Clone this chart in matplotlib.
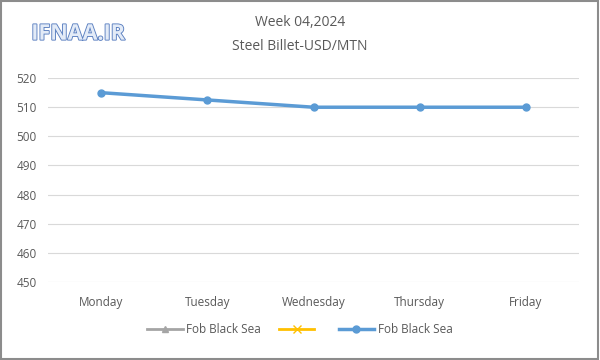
import matplotlib
matplotlib.use("Agg")
import matplotlib.pyplot as plt
import matplotlib.patheffects as pe
from matplotlib.patches import Rectangle

days = ["Monday", "Tuesday", "Wednesday", "Thursday", "Friday"]
fob_black_sea = [515, 512.5, 510, 510, 510]
yticks = [450, 460, 470, 480, 490, 500, 510, 520]

plt.rcParams['font.family'] = ['Open Sans', 'DejaVu Sans']

fig = plt.figure(figsize=(6, 3.6), dpi=100)
ax = fig.add_axes([0.08, 0.217, 0.885, 0.566])
x = list(range(len(days)))

ax.plot([], [], color="#a5a5a5", marker="^", markersize=5, lw=2, label="Fob Black Sea")
ax.plot([], [], color="#ffc000", marker="x", markersize=6, lw=2, label=" ")
ax.plot(x, fob_black_sea, color="#5b9bd5", marker="o", markersize=5, lw=2.5, label="Fob Black Sea")

ax.set_xlim(-0.5, len(days) - 0.5)
ax.set_ylim(450, 520)
ax.set_yticks(yticks)
ax.set_xticks(x)
ax.set_xticklabels(days)
ax.grid(axis="y", color="#d9d9d9", lw=0.8)
ax.set_axisbelow(True)
for s in ax.spines.values():
    s.set_visible(False)
ax.tick_params(length=0, labelsize=8.5, colors="#595959", pad=8)
ax.tick_params(axis="x", pad=10)

fig.text(0.5, 0.938, "Week 04,2024", ha="center", va="center", fontsize=10, color="#595959")
fig.text(0.5, 0.872, "Steel Billet-USD/MTN", ha="center", va="center", fontsize=10, color="#595959")
fig.text(0.13, 0.905, "IFNAA.IR", ha="center", va="center", fontsize=15.5, color="#e3ebf7",
         fontweight="bold", path_effects=[pe.withStroke(linewidth=1.3, foreground="#5a7fc0")])

fig.legend(loc="center", bbox_to_anchor=(0.5, 0.085), ncol=3, frameon=False, fontsize=8.5,
           labelcolor="#595959", handlelength=3, columnspacing=1.5, handletextpad=0.3)

fig.patches.append(Rectangle((0.002, 0.003), 0.995, 0.994, transform=fig.transFigure,
                             fill=False, edgecolor="#8c8c8c", lw=1.5))
fig.savefig("out.png", dpi=100)
